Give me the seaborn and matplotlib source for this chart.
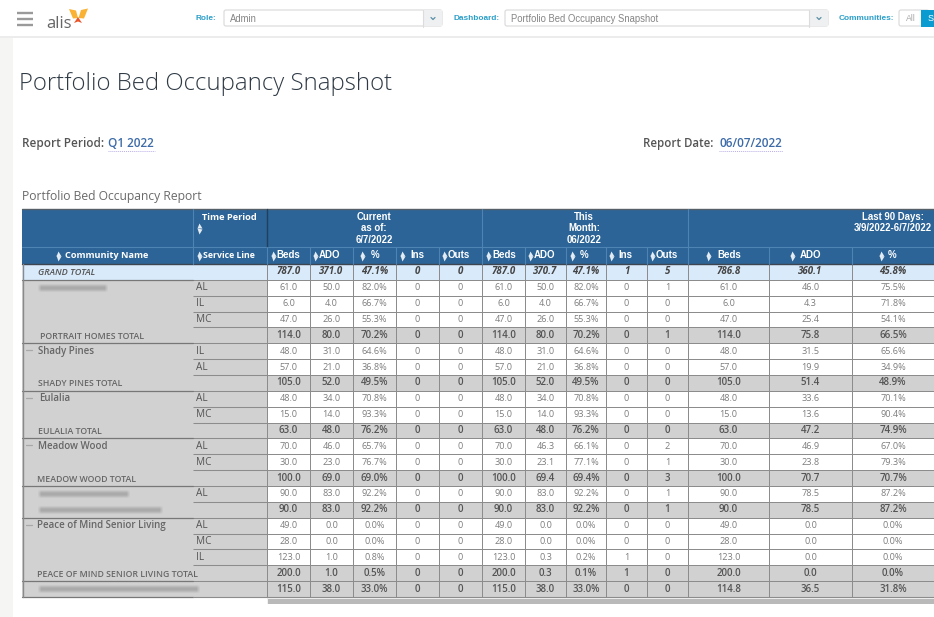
import matplotlib
matplotlib.use("Agg")
import matplotlib.pyplot as plt
import matplotlib.patches as mpatches
from matplotlib.colors import ListedColormap
import numpy as np
import pandas as pd
import seaborn as sns

sns.set_style("white")
plt.rcParams["font.family"] = ["Open Sans", "DejaVu Sans"]

W, H = 934, 617

# ------------------ Data ------------------
row_kinds = ["grand", "detail", "detail", "detail", "total", "detail", "detail", "total",
             "detail", "detail", "total", "detail", "detail", "total", "detail", "total",
             "detail", "detail", "detail", "total", "total"]
service_lines = ["", "AL", "IL", "MC", "", "IL", "AL", "", "AL", "MC", "", "AL", "MC", "",
                 "AL", "", "AL", "MC", "IL", "", ""]

current_beds = [787.0, 61.0, 6.0, 47.0, 114.0, 48.0, 57.0, 105.0, 48.0, 15.0, 63.0, 70.0, 30.0,
                100.0, 90.0, 90.0, 49.0, 28.0, 123.0, 200.0, 115.0]
current_ado = [371.0, 50.0, 4.0, 26.0, 80.0, 31.0, 21.0, 52.0, 34.0, 14.0, 48.0, 46.0, 23.0,
               69.0, 83.0, 83.0, 0.0, 0.0, 1.0, 1.0, 38.0]
current_pct = [47.1, 82.0, 66.7, 55.3, 70.2, 64.6, 36.8, 49.5, 70.8, 93.3, 76.2, 65.7, 76.7,
               69.0, 92.2, 92.2, 0.0, 0.0, 0.8, 0.5, 33.0]
current_ins = [0] * 21
current_outs = [0] * 21

month_beds = list(current_beds)
month_ado = [370.7, 50.0, 4.0, 26.0, 80.0, 31.0, 21.0, 52.0, 34.0, 14.0, 48.0, 46.3, 23.1,
             69.4, 83.0, 83.0, 0.0, 0.0, 0.3, 0.3, 38.0]
month_pct = [47.1, 82.0, 66.7, 55.3, 70.2, 64.6, 36.8, 49.5, 70.8, 93.3, 76.2, 66.1, 77.1,
             69.4, 92.2, 92.2, 0.0, 0.0, 0.2, 0.1, 33.0]
month_ins = [1, 0, 0, 0, 0, 0, 0, 0, 0, 0, 0, 0, 0, 0, 0, 0, 0, 0, 1, 1, 0]
month_outs = [5, 1, 0, 0, 1, 0, 0, 0, 0, 0, 0, 2, 1, 3, 1, 1, 0, 0, 0, 0, 0]

q_beds = [786.8, 61.0, 6.0, 47.0, 114.0, 48.0, 57.0, 105.0, 48.0, 15.0, 63.0, 70.0, 30.0,
          100.0, 90.0, 90.0, 49.0, 28.0, 123.0, 200.0, 114.8]
q_ado = [360.1, 46.0, 4.3, 25.4, 75.8, 31.5, 19.9, 51.4, 33.6, 13.6, 47.2, 46.9, 23.8,
         70.7, 78.5, 78.5, 0.0, 0.0, 0.0, 0.0, 36.5]
q_pct = [45.8, 75.5, 71.8, 54.1, 66.5, 65.6, 34.9, 48.9, 70.1, 90.4, 74.9, 67.0, 79.3,
         70.7, 87.2, 87.2, 0.0, 0.0, 0.0, 0.0, 31.8]

# (row, label, x in px)
community_labels = [(0, "GRAND TOTAL", 38), (4, "PORTRAIT HOMES TOTAL", 40), (5, "Shady Pines", 38),
                    (7, "SHADY PINES TOTAL", 38), (8, "Eulalia", 39), (10, "EULALIA TOTAL", 38),
                    (11, "Meadow Wood", 38), (13, "MEADOW WOOD TOTAL", 37),
                    (16, "Peace of Mind Senior Living", 37), (19, "PEACE OF MIND SENIOR LIVING TOTAL", 37)]
minus_rows = [5, 8, 11, 16]

# names that are blurred out in the reference: (row, x0, x1)
blurred_names = [(1, 38, 108), (14, 38, 130), (15, 38, 163), (20, 38, 200)]

fmt_1 = "{:.1f}".format
fmt_pct = "{:.1f}%".format
fmt_int = "{:d}".format

numeric_columns = [
    (267, 310, current_beds, fmt_1), (310, 353, current_ado, fmt_1), (353, 396, current_pct, fmt_pct),
    (396, 439, current_ins, fmt_int), (439, 482, current_outs, fmt_int),
    (482, 525, month_beds, fmt_1), (525, 566, month_ado, fmt_1), (566, 606, month_pct, fmt_pct),
    (606, 647, month_ins, fmt_int), (647, 688, month_outs, fmt_int),
    (688, 769, q_beds, fmt_1), (769, 852, q_ado, fmt_1), (852, 934, q_pct, fmt_pct),
]

# (icon x, label, label x)
sub_headers = [(273, "Beds", 276), (315, "ADO", 319), (362, "%", 371), (402, "Ins", 410), (444, "Outs", 448),
               (488, "Beds", 492), (530, "ADO", 534), (572, "%", 580), (611, "Ins", 618), (652, "Outs", 656),
               (708, "Beds", 717), (792, "ADO", 800), (881, "%", 888)]
group_headers = [(374, ["Current", "as of:", "6/7/2022"]), (584, ["This", "Month:", "06/2022"]),
                 (893, ["Last 90 Days:", "3/9/2022-6/7/2022"])]

# ------------------ Layout ------------------
BODY_TOP, BODY_BOTTOM = 264, 597
ROW_H = (BODY_BOTTOM - BODY_TOP) / len(row_kinds)
WHITE, GREY, BLUE = 0, 1, 2
cell_cmap = ListedColormap(["#ffffff", "#d1d1d1", "#d9eafb"])
HEADER_BLUE = "#2c6497"
LINE = "#8c8c8c"

fig = plt.figure(figsize=(W / 100, H / 100), dpi=100, facecolor="white")


def px_axes(x0, y0, x1, y1):
    return fig.add_axes([x0 / W, 1 - y1 / H, (x1 - x0) / W, (y1 - y0) / H])


def style_cells(ax):
    for text, kind in zip(ax.texts, row_kinds):
        if kind == "grand":
            text.set(color="#444444", fontweight="bold", fontstyle="italic", fontsize=7)
        elif kind == "total":
            text.set(color="#555555", fontweight="semibold", fontsize=7)


def draw_column(x0, x1, codes, labels, linewidths=0.0):
    ax = px_axes(x0, BODY_TOP, x1, BODY_BOTTOM)
    frame = pd.DataFrame({"v": codes})
    sns.heatmap(frame, ax=ax, cmap=cell_cmap, vmin=0, vmax=2, cbar=False,
                annot=np.array(labels).reshape(-1, 1), fmt="",
                annot_kws={"fontsize": 6.6, "color": "#7d7d7d"},
                linewidths=linewidths, linecolor=LINE,
                xticklabels=False, yticklabels=False)
    ax.set_xlabel("")
    ax.set_ylabel("")
    style_cells(ax)
    return ax


number_codes = [{"grand": BLUE, "total": GREY, "detail": WHITE}[k] for k in row_kinds]
left_codes = [BLUE if k == "grand" else GREY for k in row_kinds]

draw_column(22, 193, left_codes, [""] * len(row_kinds))
service_ax = draw_column(193, 267, left_codes, service_lines)
service_ax.hlines(np.arange(1, len(row_kinds)), 0, 1, colors=LINE, lw=0.75)
for text in service_ax.texts:
    text.set(ha="left", x=0.035, color="#555555", fontsize=7.2, fontweight="normal", fontstyle="normal")

for x0, x1, values, fmt in numeric_columns:
    draw_column(x0, x1, number_codes, [fmt(v) for v in values], linewidths=0.72)

# ------------------ Page chrome (pixel coordinates) ------------------
page = fig.add_axes([0, 0, 1, 1], zorder=10)
page.patch.set_alpha(0)
page.set_xlim(0, W)
page.set_ylim(H, 0)
page.axis("off")


def rect(x0, y0, x1, y1, color, **kw):
    page.add_patch(mpatches.Rectangle((x0, y0), x1 - x0, y1 - y0, facecolor=color, edgecolor="none", **kw))


def label(x, y, s, size=7, color="#555555", weight="normal", family=None, ha="left", style="normal"):
    return page.text(x, y, s, fontsize=size, color=color, fontweight=weight, ha=ha, va="center",
                     fontstyle=style, family=family or ["Open Sans", "DejaVu Sans"])


def dropdown(x0, x1, text, x_arrow):
    page.add_patch(mpatches.FancyBboxPatch((x0 + 1, 10), x1 - x0 - 2, 16, boxstyle="round,pad=0,rounding_size=2",
                                           facecolor="white", edgecolor="#dcdcdc", linewidth=0.9))
    rect(x_arrow, 10, x1 - 1, 26, "#eef0f1")
    page.plot([x_arrow, x_arrow], [9.5, 26.5], color="#dcdcdc", lw=0.8)
    page.plot([x_arrow + 8, x_arrow + 10, x_arrow + 12], [17.5, 19.5, 17.5], color="#5b8fa8", lw=0.9)
    label(x0 + 7, 18.5, text, size=6.85, color="#858585", family="Liberation Sans")


def sort_icon(x, y):
    page.plot([x], [y - 2.6], marker="^", ms=3.6, color="#e4ecf3", mec="none", ls="none")
    page.plot([x], [y + 2.6], marker="v", ms=3.6, color="#e4ecf3", mec="none", ls="none")


# top bar
rect(0, 36, W, 38, "#ececec")
rect(0, 38, 13, H, "#f5f5f3")
for y in (13, 19, 25):
    page.plot([17, 33], [y, y], color="#9a9a9a", lw=1.7, solid_capstyle="butt")
label(46, 24, "alis", size=12, color="#666666")
page.add_patch(mpatches.Polygon([(69, 9), (76, 10.5), (78, 18), (73, 18.5)], facecolor="#f9b233", edgecolor="none"))
page.add_patch(mpatches.Polygon([(88, 8.5), (81, 10), (78.5, 18), (84, 18.5)], facecolor="#f9b233", edgecolor="none"))
page.add_patch(mpatches.Polygon([(78, 17), (74, 23), (78, 21.5), (82, 23)], facecolor="#e8552b", edgecolor="none"))

label(196, 18.5, "Role:", size=5.95, color="#2a9fc9", weight="bold", family="Liberation Sans")
dropdown(223, 443, "Admin", 423)
label(453, 18.5, "Dashboard:", size=5.95, color="#2a9fc9", weight="bold", family="Liberation Sans")
dropdown(504, 829, "Portfolio Bed Occupancy Snapshot", 809)
label(839, 18.5, "Communities:", size=5.95, color="#2a9fc9", weight="bold", family="Liberation Sans")
page.add_patch(mpatches.FancyBboxPatch((899, 10), 30, 16, boxstyle="round,pad=0,rounding_size=2",
                                       facecolor="white", edgecolor="#dcdcdc", linewidth=0.9))
label(906, 18.5, "All", size=6.2, color="#aaaaaa", family="Liberation Sans")
rect(921, 10, W, 27, "#0a9bd0")
label(928, 18.5, "S", size=6.5, color="white", family="Liberation Sans")

# page headings
label(19, 83.5, "Portfolio Bed Occupancy Snapshot", size=17.3, color="#2f3a45", weight=300)
label(22, 143.5, "Report Period:", size=8.5, color="#555555", weight="semibold")
label(108, 143.5, "Q1 2022", size=8.5, color="#3c6ba8", weight="semibold")
page.plot([108, 155], [151, 151], color="#b9aee6", lw=0.7, ls=(0, (1, 1)))
label(643, 143.5, "Report Date:", size=8.3, color="#555555", weight="semibold")
label(719, 143.5, "06/07/2022", size=8.5, color="#3c6ba8", weight="semibold")
page.plot([719, 783], [151, 151], color="#b9aee6", lw=0.7, ls=(0, (1, 1)))
label(22, 196.5, "Portfolio Bed Occupancy Report", size=8.7, color="#6a6a6a")

# table header
rect(22, 209, W, BODY_TOP, HEADER_BLUE)
page.plot([22, W], [209, 209], color="#555f68", lw=1.0)
page.plot([22, W], [247, 247], color="#4e84b4", lw=0.8)
page.plot([22, W], [BODY_TOP, BODY_TOP], color="#3d4650", lw=1.0)
for x in (193, 310, 353, 396, 439, 482, 525, 566, 606, 647, 688, 769, 852):
    top = 209 if x in (193, 482, 688) else 247
    page.plot([x, x], [top, BODY_TOP], color="#4e84b4", lw=0.8)
page.plot([267, 267], [209, 247], color="#22405e", lw=1.0)
page.plot([267, 267], [247, BODY_TOP], color="#4e84b4", lw=0.8)

label(202, 217, "Time Period", size=6.7, color="white", weight="bold")
sort_icon(199, 228)
sort_icon(58, 255.5)
label(65, 255.5, "Community Name", size=6.6, color="white", weight="bold")
sort_icon(199, 255.5)
label(203, 255.5, "Service Line", size=6.3, color="white", weight="bold")
for icon_x, text, text_x in sub_headers:
    sort_icon(icon_x, 255.5)
    label(text_x, 255.5, text, size=7, color="white", weight="bold", family="Liberation Sans")
for center, lines in group_headers:
    for i, line in enumerate(lines):
        label(center, 217 + i * 11.3, line, size=6.9, color="white", weight="bold",
              family="Liberation Sans", ha="center")

# community column
for row, text, x in community_labels:
    y = BODY_TOP + (row + 0.5) * ROW_H + 0.5
    if row == 0:
        label(x, y, text, size=6.6, color="#555555", weight="semibold", style="italic")
    elif text.isupper():
        label(x, y + 0.5, text, size=6.3, color="#666666", weight="semibold")
    else:
        label(x, y - 0.5, text, size=7, color="#666666", weight="semibold")
for row in minus_rows:
    y = BODY_TOP + (row + 0.5) * ROW_H - 1
    page.plot([26, 32], [y, y], color="#a9a9a9", lw=0.9)

for row, x0, x1 in blurred_names:
    y = BODY_TOP + (row + 0.5) * ROW_H
    n = int(x1 - x0)
    edge = np.minimum(np.minimum(np.arange(n) + 1, np.arange(n)[::-1] + 1) / 4, 1)
    smear = np.zeros((11, n, 4))
    smear[..., :3] = 0.45
    smear[..., 3] = np.outer(np.hanning(11) ** 0.7, edge) * 0.42
    page.imshow(smear, extent=(x0, x1, y + 5, y - 5), aspect="auto", interpolation="bilinear", zorder=3)
page.set_xlim(0, W)
page.set_ylim(H, 0)

# row rules on the merged community column, left edge and table foot
for i, kind in enumerate(row_kinds):
    if i in (0, 4, 7, 10, 13, 15, 19, 20):
        y = BODY_TOP + (i + 1) * ROW_H
        page.plot([22, 193], [y, y], color="#777777", lw=0.9)
page.plot([22.5, 22.5], [BODY_TOP, BODY_BOTTOM], color="#8a8a8a", lw=1.0)
page.plot([267, W], [BODY_BOTTOM, BODY_BOTTOM], color="#8c8c8c", lw=0.8)
page.plot([193, 267], [BODY_BOTTOM, BODY_BOTTOM], color="#8c8c8c", lw=0.8)

# scrollbar
rect(267, 598, W, 604, "#f1f1f1")
rect(268, 599, W, 603.5, "#b9b9b9")

fig.savefig("out.png", dpi=100)
